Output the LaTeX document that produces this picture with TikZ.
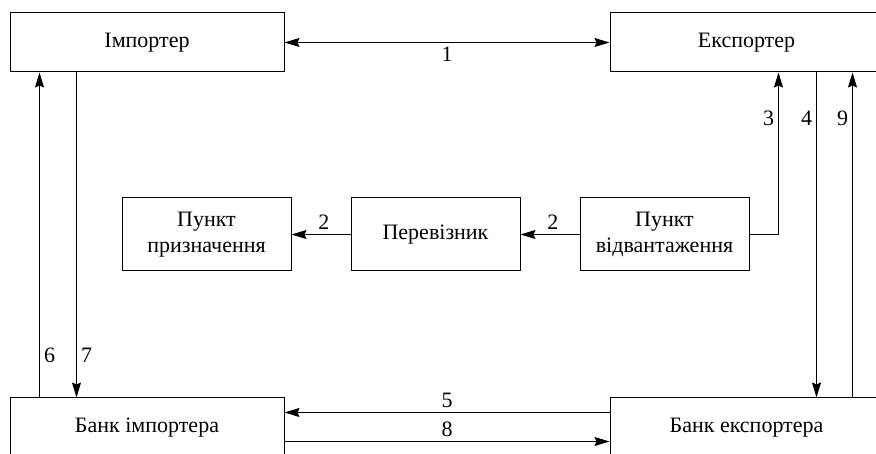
\documentclass[tikz,border=0pt]{standalone}
\usepackage{fontspec}
\setmainfont{Liberation Serif}
\usetikzlibrary{arrows.meta}

\tikzset{
  box/.style={draw, line width=1pt, inner sep=0pt, align=center,
    font=\fontsize{22}{25.7}\selectfont},
  tip/.tip={Stealth[length=15pt,width=9pt,inset=2pt]},
  arr/.style={line width=1pt, -tip},
  num/.style={font=\fontsize{22}{24}\selectfont, inner sep=4pt}
}

\begin{document}
\begin{tikzpicture}[x=1pt,y=-1pt]
\useasboundingbox (0,0) rectangle (876,454);
\clip (0,0) rectangle (876,454);
% top row
\node[box, minimum width=274pt, minimum height=59pt] (imp) at (147,42.5) {Імпортер};
\node[box, minimum width=273pt, minimum height=59pt] (exp) at (746.5,42.5) {Експортер};
% middle row
\node[box, minimum width=169pt, minimum height=73pt] (dest) at (206.5,234.5) {Пункт\\призначення};
\node[box, minimum width=169pt, minimum height=73pt] (carr) at (435.5,234.5) {Перевізник};
\node[box, minimum width=169pt, minimum height=73pt] (ship) at (664.5,234.5) {Пункт\\відвантаження};
% bottom row
\node[box, minimum width=274pt, minimum height=59pt] (bimp) at (147,427.5) {Банк імпортера};
\node[box, minimum width=273pt, minimum height=59pt] (bexp) at (746.5,427.5) {Банк експортера};

\draw[arr, tip-tip] (imp.east) -- node[num, below] {1} (exp.west);
\draw[arr] (carr.west) -- node[num, above, pos=0.45] {2} (dest.east);
\draw[arr] (ship.west) -- node[num, above, pos=0.45] {2} (carr.east);
\draw[arr] (ship.east) -| node[num, left, pos=0.86] {3} ([xshift=169pt]exp.south west);
\draw[arr] ([xshift=207pt]exp.south west) -- node[num, left, pos=0.14] {4} ([xshift=207pt]bexp.north west);
\draw[arr] ([xshift=243pt]bexp.north west) -- node[num, left, pos=0.86] {9} ([xshift=243pt]exp.south west);
\draw[arr] ([yshift=-15pt]bexp.north west) -- node[num, above] {5} ([yshift=-15pt]bimp.north east);
\draw[arr] ([yshift=-44pt]bimp.north east) -- node[num, above] {8} ([yshift=-44pt]bexp.north west);
\draw[arr] ([xshift=30pt]bimp.north west) -- node[num, right, pos=0.13] {6} ([xshift=30pt]imp.south west);
\draw[arr] ([xshift=67pt]imp.south west) -- node[num, right, pos=0.87] {7} ([xshift=67pt]bimp.north west);
\end{tikzpicture}
\end{document}
